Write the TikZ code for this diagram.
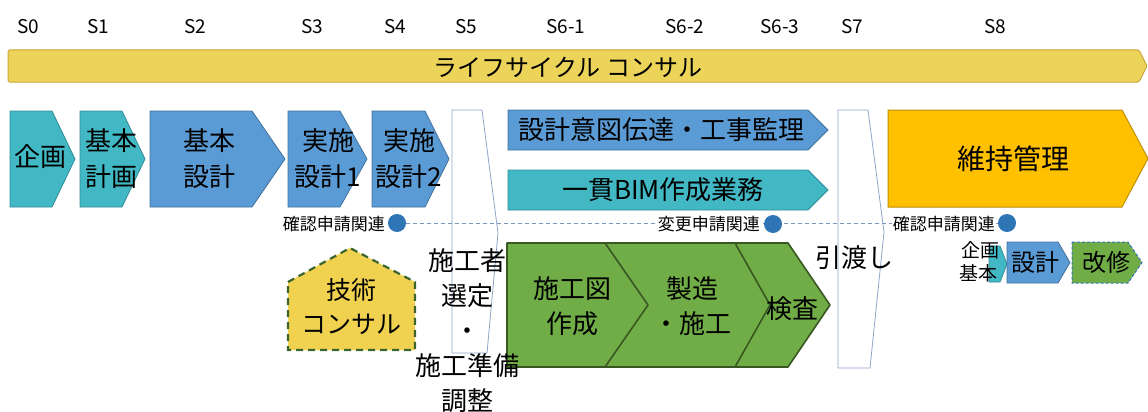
\documentclass[tikz,border=0pt]{standalone}
\usepackage{fontspec}
\setmainfont{Noto Sans CJK JP}
\definecolor{cbar}{RGB}{236,211,90}
\definecolor{cbard}{RGB}{200,168,58}
\definecolor{cteal}{RGB}{66,184,196}
\definecolor{cteald}{RGB}{48,140,150}
\definecolor{cblue}{RGB}{91,155,213}
\definecolor{cblued}{RGB}{65,113,156}
\definecolor{corange}{RGB}{255,192,0}
\definecolor{coranged}{RGB}{191,144,0}
\definecolor{cgreen}{RGB}{112,173,71}
\definecolor{cgreend}{RGB}{56,87,35}
\definecolor{cgiyel}{RGB}{240,210,80}
\definecolor{cgidash}{RGB}{60,100,45}
\definecolor{cdot}{RGB}{46,117,182}
\definecolor{cdash}{RGB}{120,150,190}
\definecolor{cpane}{RGB}{140,165,200}
\newcommand{\homeplate}[6]{\draw[#1] (#2,#5) -- (#3,#5) -- (#4,{(#5+#6)/2}) -- (#3,#6) -- (#2,#6) -- cycle;}
\begin{document}
\begin{tikzpicture}[x=1pt,y=-1pt,
  barst/.style={fill=cbar,draw=cbard,line width=1pt,rounded corners=1.5pt},
  tealst/.style={fill=cteal,draw=cteald,line width=0.8pt},
  bluest/.style={fill=cblue,draw=cblued,line width=0.8pt},
  orangest/.style={fill=corange,draw=coranged,line width=1pt},
  greenst/.style={fill=cgreen,draw=cgreend,line width=1.6pt,line join=round},
  panest/.style={fill=white,draw=cpane,line width=0.8pt},
  gikost/.style={fill=cgiyel,draw=cgidash,line width=2.2pt,dash pattern=on 7pt off 5pt},
  kaishust/.style={fill=cgreen,draw=cdot,line width=1pt,dash pattern=on 3pt off 2pt},
  stage/.style={font=\fontsize{19}{19}\selectfont,inner sep=0},
  big/.style={font=\fontsize{26}{36}\selectfont,align=center,inner sep=0},
  mid/.style={font=\fontsize{24}{24}\selectfont,align=center,inner sep=0},
  small/.style={font=\fontsize{17}{17}\selectfont,inner sep=1pt,fill=white},
  tiny/.style={font=\fontsize{19}{19}\selectfont,inner sep=0},
  dot/.style={circle,fill=cdot,minimum size=18pt,inner sep=0},
  dashline/.style={draw=cdash,line width=0.8pt,dash pattern=on 4pt off 3pt}]
\useasboundingbox (0,0) rectangle (1148,412);
% stage labels
\node[stage] (s0) at (28,27) {S0};
\node[stage] (s1) at (98,27) {S1};
\node[stage] (s2) at (195,27) {S2};
\node[stage] (s3) at (312,27) {S3};
\node[stage] (s4) at (395,27) {S4};
\node[stage] (s5) at (466,27) {S5};
\node[stage] (s61) at (566,27) {S6-1};
\node[stage] (s62) at (685,27) {S6-2};
\node[stage] (s63) at (780,27) {S6-3};
\node[stage] (s7) at (852,27) {S7};
\node[stage] (s8) at (995,27) {S8};
% life cycle bar
\homeplate{barst}{8}{1139}{1147}{50}{82}
\node[mid] (lc) at (568,67) {ライフサイクル コンサル};
% first row
\homeplate{tealst}{10}{52}{75}{111}{207}
\homeplate{tealst}{80}{122}{145}{111}{207}
\homeplate{bluest}{150}{252}{285}{111}{207}
\homeplate{bluest}{288}{340}{367}{111}{207}
\homeplate{bluest}{372}{425}{449}{111}{207}
\homeplate{bluest}{508}{808}{828}{110}{150}
\homeplate{tealst}{508}{808}{828}{170}{210}
\homeplate{orangest}{888}{1122}{1148}{110}{207}
% S5 / S7 panes
\draw[panest] (452,110) -- (482,110) -- (498,233) -- (487,353) -- (452,353) -- cycle;
\draw[panest] (838,110) -- (868,110) -- (884,232) -- (870,368) -- (838,368) -- cycle;
% green chevrons
\draw[greenst] (507,243) -- (788,243) -- (830,305) -- (788,367) -- (507,367) -- cycle;
\draw[greenst] (605,243) -- (648,305) -- (605,367);
\draw[greenst] (735,243) -- (770,305) -- (735,367);
% gijutsu consul
\draw[gikost] (288,282) -- (350,248) -- (415,282) -- (415,350) -- (288,350) -- cycle;
% bottom right small shapes
\homeplate{tealst}{989}{1000}{1007}{246}{282}
\homeplate{bluest}{1007}{1058}{1070}{242}{283}
\homeplate{kaishust}{1072}{1128}{1142}{242}{283}
% dashed line and circles
\node[dot] (c1) at (397,223) {};
\node[dot] (c3) at (1007,223) {};
\draw[dashline] (c1) -- (c3);
\node[small,anchor=east] (k1) at (386,224) {確認申請関連};
\node[small,anchor=east] (k2) at (761,224) {変更申請関連};
\node[small,anchor=east] (k3) at (996,224) {確認申請関連};
\node[dot] (c2) at (773,224) {};
% texts
\node[big] (t0) at (40,157) {企画};
\node[big] (t1) at (111,159) {基本\\計画};
\node[big] (t2) at (209,159) {基本\\設計};
\node[big] (t3) at (328,159) {実施\\設計1};
\node[big] (t4) at (409,159) {実施\\設計2};
\node[big] (t5) at (661,130) {設計意図伝達・工事監理};
\node[big] (t6) at (663,190) {一貫BIM作成業務};
\node[big,font=\fontsize{28}{28}\selectfont] (t7) at (1013,159) {維持管理};
\node[big,font=\fontsize{26}{35}\selectfont] (t8) at (467,331) {施工者\\選定\\・\\施工準備\\調整};
\node[big,font=\fontsize{26}{35}\selectfont] (t9) at (572,306) {施工図\\作成};
\node[big,font=\fontsize{26}{35}\selectfont] (t10) at (692,306) {製造\\・施工};
\node[big] (t11) at (792,309) {検査};
\node[big] (t12) at (854,258) {引渡し};
\node[big,font=\fontsize{25}{34}\selectfont] (t13) at (351,307) {技術\\コンサル};
\node[tiny] (t14) at (980,250) {企画};
\node[tiny] (t15) at (978,273) {基本};
\node[mid] (t16) at (1035,262) {設計};
\node[mid] (t17) at (1106,262) {改修};
\end{tikzpicture}
\end{document}
